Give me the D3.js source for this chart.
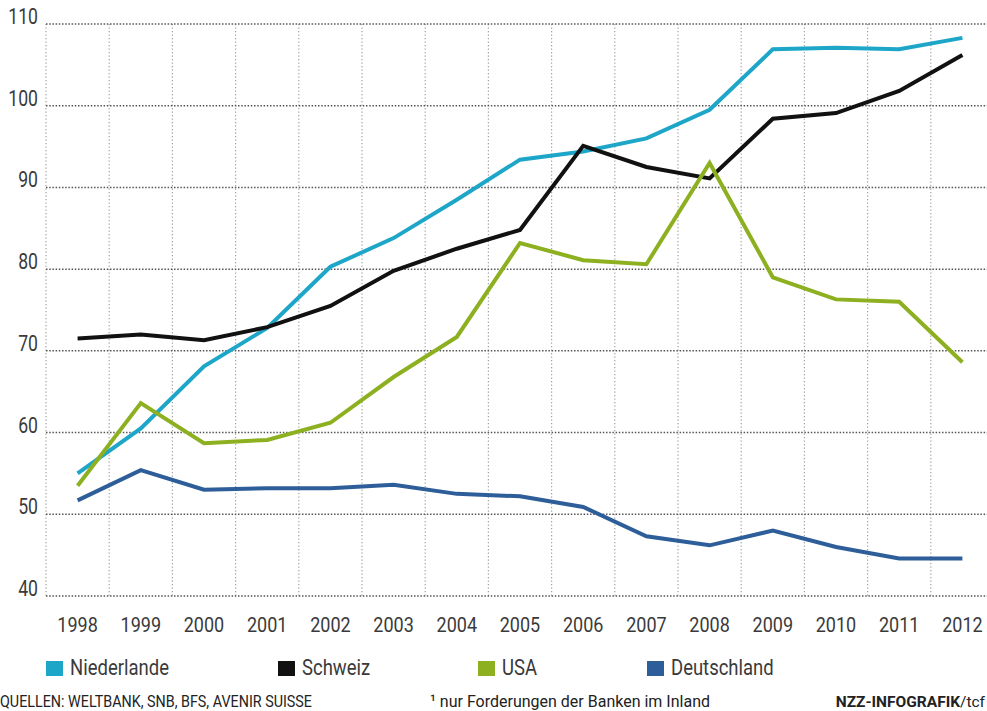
<!DOCTYPE html>
<html>
<head>
<meta charset="utf-8">
<script src="https://cdn.jsdelivr.net/npm/d3@7"></script>
<style>
  html, body { margin: 0; padding: 0; background: #fff; }
  svg { display: block; font-family: "Roboto", "Liberation Sans", sans-serif; }
</style>
</head>
<body>
<svg id="chart" width="987" height="711"></svg>
<script>
const years = [1998, 1999, 2000, 2001, 2002, 2003, 2004, 2005, 2006, 2007, 2008, 2009, 2010, 2011, 2012];
const yTicks = [40, 50, 60, 70, 80, 90, 100, 110];

const niederlande = [55.0, 60.5, 68.1, 72.8, 80.3, 83.8, 88.5, 93.4, 94.4, 96.0, 99.5, 106.9, 107.1, 106.9, 108.3];
const schweiz     = [71.5, 72.0, 71.3, 72.9, 75.5, 79.8, 82.5, 84.8, 95.1, 92.5, 91.1, 98.4, 99.1, 101.8, 106.2];
const usa         = [53.5, 63.6, 58.7, 59.1, 61.2, 66.8, 71.7, 83.2, 81.1, 80.6, 93.0, 79.0, 76.3, 76.0, 68.6];
const deutschland = [51.7, 55.4, 53.0, 53.2, 53.2, 53.6, 52.5, 52.2, 50.9, 47.3, 46.2, 48.0, 46.0, 44.6, 44.6];

const seriesNames = ['Niederlande', 'Schweiz', 'USA', 'Deutschland'];
const seriesValues = [niederlande, schweiz, usa, deutschland];
const colors = ['#1ea6c9', '#111111', '#8db020', '#2e5e99'];

const svg = d3.select('#chart');

const x = d3.scaleBand().domain(years).range([46, 46 + 15 * 63.2]);
const y = d3.scaleLinear().domain([40, 110]).range([596, 24]);
const cx = d => x(d) + x.bandwidth() / 2;

// squeeze text horizontally, the original uses a condensed face
function condense(sel, f) {
  sel.each(function () {
    const w = this.getComputedTextLength();
    d3.select(this)
      .attr('textLength', w * f)
      .attr('lengthAdjust', 'spacingAndGlyphs');
  });
}

// grid
const grid = svg.append('g');
grid.selectAll('line.v')
  .data(years)
  .enter()
  .append('line')
  .attr('x1', d => x(d)).attr('x2', d => x(d))
  .attr('y1', y(110)).attr('y2', y(40))
  .attr('stroke', '#a0a0a0')
  .attr('stroke-width', 1.2)
  .attr('stroke-dasharray', '1.3,2.2');

grid.selectAll('line.h')
  .data(yTicks)
  .enter()
  .append('line')
  .attr('x1', 46).attr('x2', 987)
  .attr('y1', d => y(d)).attr('y2', d => y(d))
  .attr('stroke', '#555')
  .attr('stroke-width', 1.5)
  .attr('stroke-dasharray', '1.5,1.7');

// y labels
svg.append('g')
  .selectAll('text')
  .data(yTicks)
  .enter()
  .append('text')
  .attr('x', 38)
  .attr('y', d => y(d))
  .attr('text-anchor', 'end')
  .attr('fill', '#3a3a3a')
  .style('font-size', '22px')
  .text(d => d)
  .call(condense, 0.8);

// x labels
svg.append('g')
  .selectAll('text')
  .data(years)
  .enter()
  .append('text')
  .attr('x', d => cx(d))
  .attr('y', 632)
  .attr('text-anchor', 'middle')
  .attr('fill', '#3a3a3a')
  .style('font-size', '20px')
  .text(d => d)
  .call(condense, 0.9);

// lines
const line = d3.line()
  .x((d, i) => cx(years[i]))
  .y(d => y(d));

svg.append('g')
  .selectAll('path')
  .data(seriesValues)
  .enter()
  .append('path')
  .attr('d', d => line(d))
  .attr('fill', 'none')
  .attr('stroke', (d, i) => colors[i])
  .attr('stroke-width', 4)
  .attr('stroke-linejoin', 'miter')
  .attr('stroke-linecap', 'butt');

// legend
const legendX = [46, 278, 478, 647];
const legend = svg.append('g')
  .selectAll('g')
  .data(seriesNames)
  .enter()
  .append('g')
  .attr('transform', (d, i) => 'translate(' + legendX[i] + ',661)');
legend.append('rect')
  .attr('width', 17).attr('height', 15)
  .attr('fill', (d, i) => colors[i]);
legend.append('text')
  .attr('x', 24)
  .attr('y', 14)
  .attr('fill', '#3a3a3a')
  .style('font-size', '22px')
  .text(d => d)
  .call(condense, 0.84);

// footer
svg.append('text')
  .attr('x', 0).attr('y', 707)
  .attr('fill', '#222')
  .attr('textLength', 312)
  .attr('lengthAdjust', 'spacingAndGlyphs')
  .style('font-size', '17px')
  .text('QUELLEN: WELTBANK, SNB, BFS, AVENIR SUISSE');

svg.append('text')
  .attr('x', 430).attr('y', 707)
  .attr('fill', '#222')
  .attr('textLength', 280)
  .attr('lengthAdjust', 'spacingAndGlyphs')
  .style('font-size', '17px')
  .text('¹ nur Forderungen der Banken im Inland');

const credit = svg.append('text')
  .attr('x', 985).attr('y', 707)
  .attr('text-anchor', 'end')
  .attr('fill', '#222')
  .style('font-size', '15.5px');
credit.append('tspan').style('font-weight', 'bold').text('NZZ-INFOGRAFIK');
credit.append('tspan').text('/tcf');
</script>
</body>
</html>
